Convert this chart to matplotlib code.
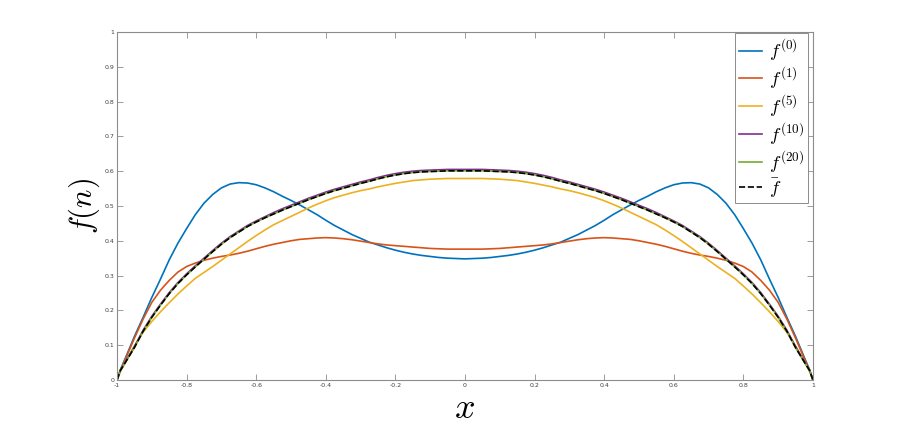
import matplotlib
matplotlib.use("Agg")
import matplotlib.pyplot as plt

plt.rcParams["mathtext.fontset"] = "cm"

# x positions where the curves were read (left half); the curves are symmetric
x_left = [-1.0, -0.99, -0.975, -0.95, -0.925, -0.9, -0.875, -0.85, -0.825, -0.8,
          -0.775, -0.75, -0.725, -0.7, -0.675, -0.65, -0.625, -0.6, -0.575, -0.55,
          -0.525, -0.5, -0.475, -0.45, -0.425, -0.4, -0.375, -0.35, -0.325, -0.3,
          -0.275, -0.25, -0.225, -0.2, -0.175, -0.15, -0.125, -0.1, -0.075, -0.05,
          -0.025]

f0_left = [0.0, 0.03, 0.065, 0.125, 0.18, 0.237, 0.29, 0.345, 0.393, 0.435,
           0.475, 0.508, 0.533, 0.552, 0.563, 0.567, 0.566, 0.561, 0.552, 0.541,
           0.528, 0.516, 0.503, 0.489, 0.475, 0.459, 0.444, 0.431, 0.418, 0.407,
           0.396, 0.388, 0.38, 0.373, 0.367, 0.362, 0.358, 0.355, 0.352, 0.35,
           0.349]
f0_mid = 0.348

f1_left = [0.0, 0.028, 0.062, 0.12, 0.175, 0.223, 0.258, 0.286, 0.31, 0.326,
           0.336, 0.344, 0.35, 0.355, 0.359, 0.364, 0.37, 0.377, 0.384, 0.39,
           0.395, 0.4, 0.404, 0.406, 0.408, 0.409, 0.408, 0.406, 0.403, 0.399,
           0.395, 0.391, 0.388, 0.386, 0.384, 0.382, 0.38, 0.378, 0.377, 0.376,
           0.376]
f1_mid = 0.376

f5_left = [0.0, 0.025, 0.052, 0.098, 0.137, 0.168, 0.196, 0.222, 0.247, 0.27,
           0.292, 0.309, 0.326, 0.344, 0.362, 0.38, 0.398, 0.415, 0.431, 0.446,
           0.458, 0.47, 0.482, 0.494, 0.505, 0.515, 0.524, 0.531, 0.538, 0.544,
           0.549, 0.555, 0.56, 0.565, 0.569, 0.573, 0.575, 0.577, 0.578, 0.579,
           0.579]
f5_mid = 0.579

f10_left = [0.0, 0.029, 0.054, 0.096, 0.143, 0.183, 0.218, 0.251, 0.28, 0.305,
            0.328, 0.35, 0.372, 0.393, 0.412, 0.428, 0.444, 0.457, 0.469, 0.481,
            0.492, 0.502, 0.512, 0.522, 0.531, 0.54, 0.548, 0.555, 0.562, 0.569,
            0.575, 0.582, 0.588, 0.593, 0.597, 0.6, 0.602, 0.603, 0.604, 0.605,
            0.605]
f10_mid = 0.605

f20_left = [0.0, 0.028, 0.052, 0.093, 0.14, 0.18, 0.215, 0.248, 0.277, 0.302,
            0.325, 0.347, 0.369, 0.39, 0.409, 0.425, 0.441, 0.454, 0.466, 0.477,
            0.488, 0.498, 0.508, 0.518, 0.527, 0.536, 0.544, 0.551, 0.558, 0.565,
            0.571, 0.578, 0.584, 0.589, 0.593, 0.596, 0.598, 0.599, 0.6, 0.601,
            0.601]
f20_mid = 0.601

fbar_left = [0.0, 0.028, 0.052, 0.093, 0.14, 0.18, 0.215, 0.248, 0.277, 0.302,
             0.325, 0.347, 0.369, 0.39, 0.409, 0.425, 0.441, 0.454, 0.466, 0.477,
             0.488, 0.498, 0.508, 0.518, 0.527, 0.536, 0.544, 0.551, 0.558, 0.565,
             0.571, 0.578, 0.584, 0.589, 0.593, 0.596, 0.598, 0.599, 0.6, 0.601,
             0.601]
fbar_mid = 0.601

x = x_left + [0.0] + [-v for v in reversed(x_left)]


def full(left, mid):
    return left + [mid] + list(reversed(left))


series = [
    (full(f0_left, f0_mid), "#0072BD", "-", r"$f^{(0)}$"),
    (full(f1_left, f1_mid), "#D95319", "-", r"$f^{(1)}$"),
    (full(f5_left, f5_mid), "#EDB120", "-", r"$f^{(5)}$"),
    (full(f10_left, f10_mid), "#7E2F8E", "-", r"$f^{(10)}$"),
    (full(f20_left, f20_mid), "#77AC30", "-", r"$f^{(20)}$"),
    (full(fbar_left, fbar_mid), "black", "--", r"$\bar{f}$"),
]

fig = plt.figure(figsize=(9, 4.32), dpi=100)
ax = fig.add_axes([0.13, 0.1204, 0.7733, 0.8056])

for y, c, ls, lab in series:
    ax.plot(x, y, color=c, linestyle=ls, linewidth=1.2, label=lab)

ax.set_xlim(-1, 1)
ax.set_ylim(0, 1)
ax.set_xticks([-1, -0.8, -0.6, -0.4, -0.2, 0, 0.2, 0.4, 0.6, 0.8, 1])
ax.set_xticklabels(["-1", "-0.8", "-0.6", "-0.4", "-0.2", "0", "0.2", "0.4", "0.6", "0.8", "1"])
ax.set_yticks([0, 0.1, 0.2, 0.3, 0.4, 0.5, 0.6, 0.7, 0.8, 0.9, 1])
ax.set_yticklabels(["0", "0.1", "0.2", "0.3", "0.4", "0.5", "0.6", "0.7", "0.8", "0.9", "1"])
ax.tick_params(direction="in", length=4, width=0.6, color="0.55", labelsize=4.5,
               labelcolor="0.25", top=True, right=True, pad=2)
for s in ax.spines.values():
    s.set_color("0.55")
    s.set_linewidth(0.8)

ax.set_xlabel(r"$x$", fontsize=26, labelpad=2)
ax.set_ylabel(r"$f(n)$", fontsize=22, labelpad=2)

leg = ax.legend(loc="upper right", bbox_to_anchor=(0.993, 0.997), fontsize=13.5,
                handlelength=1.2, handletextpad=0.4, borderaxespad=0.0, borderpad=0.2,
                labelspacing=0.08, fancybox=False, framealpha=1)
leg.get_frame().set_edgecolor("0.55")
leg.get_frame().set_linewidth(0.7)

fig.savefig("out.png", dpi=100)
